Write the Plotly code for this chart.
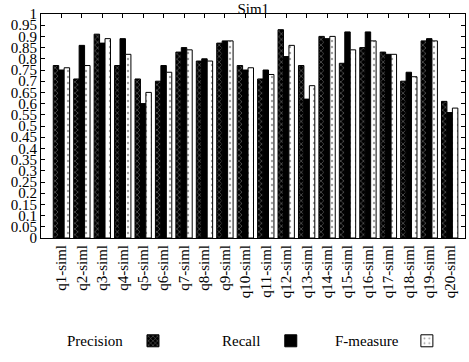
import plotly.graph_objects as go

categories = [f"q{i}-siml" for i in range(1, 21)]
precision = [0.77, 0.71, 0.91, 0.77, 0.71, 0.70, 0.83, 0.79, 0.87, 0.77,
             0.71, 0.93, 0.77, 0.90, 0.78, 0.85, 0.83, 0.70, 0.88, 0.61]
recall = [0.75, 0.86, 0.87, 0.89, 0.60, 0.77, 0.85, 0.80, 0.88, 0.75,
          0.75, 0.81, 0.62, 0.89, 0.92, 0.92, 0.82, 0.74, 0.89, 0.56]
fmeasure = [0.76, 0.77, 0.89, 0.82, 0.65, 0.74, 0.84, 0.79, 0.88, 0.76,
            0.73, 0.86, 0.68, 0.90, 0.84, 0.88, 0.82, 0.72, 0.88, 0.58]
series_names = ["Precision", "Recall", "F-measure"]
y_ticks = [round(i * 0.05, 2) for i in range(21)]
y_ticklabels = ["0" if v == 0 else ("1" if v == 1 else f"{v:g}") for v in y_ticks]

FONT = "Liberation Serif, Times New Roman, DejaVu Serif, serif"
line = dict(color="black", width=1)

fig = go.Figure()
fig.add_trace(go.Bar(
    x=categories, y=precision, name="", legend="legend",
    marker=dict(color="black", line=line,
                pattern=dict(shape="x", fgcolor="white", bgcolor="black",
                             size=4, solidity=0.25)),
))
fig.add_trace(go.Bar(
    x=categories, y=recall, name="", legend="legend2",
    marker=dict(color="black", line=line),
))
fig.add_trace(go.Bar(
    x=categories, y=fmeasure, name="", legend="legend3",
    marker=dict(color="white", line=line,
                pattern=dict(shape=".", fgcolor="#444444", bgcolor="white",
                             size=6, solidity=0.12)),
))

leg_common = dict(orientation="h", yanchor="middle", xanchor="center",
                  bgcolor="rgba(0,0,0,0)", font=dict(family=FONT, size=15, color="black"),
                  itemwidth=30)
leg_y = -0.46
fig.update_layout(
    width=469, height=362,
    margin=dict(l=41, r=4, t=14, b=120),
    paper_bgcolor="white", plot_bgcolor="white",
    font=dict(family=FONT, size=15, color="black"),
    showlegend=True,
    barmode="group", bargap=0.2, bargroupgap=0.0,
    title=dict(text="Sim1", x=0.54, xanchor="center", y=0.99, yanchor="top",
               font=dict(family=FONT, size=15, color="black")),
    legend=dict(x=0.27, y=leg_y, **leg_common),
    legend2=dict(x=0.595, y=leg_y, **leg_common),
    legend3=dict(x=0.916, y=leg_y, **leg_common),
    xaxis=dict(range=[-1.0, 19.75], showline=True, linecolor="black", linewidth=1,
               mirror="ticks", ticks="inside", ticklen=4, tickcolor="black",
               tickangle=-90, showgrid=False, tickfont=dict(family=FONT, size=15)),
    yaxis=dict(range=[0, 1], tickvals=y_ticks, ticktext=y_ticklabels,
               showline=True, linecolor="black", linewidth=1, mirror="ticks",
               ticks="inside", ticklen=4, tickcolor="black", showgrid=False,
               zeroline=False, tickfont=dict(family=FONT, size=15)),
)

ann_y = leg_y
for name, xpos in zip(series_names, [0.128, 0.471, 0.769]):
    fig.add_annotation(text=name, x=xpos, y=ann_y, xref="paper", yref="paper",
                       xanchor="center", yanchor="middle", showarrow=False,
                       font=dict(family=FONT, size=15, color="black"))

fig.write_html("out.html", config={"displayModeBar": False},
               post_script="document.body.style.margin='0';")
